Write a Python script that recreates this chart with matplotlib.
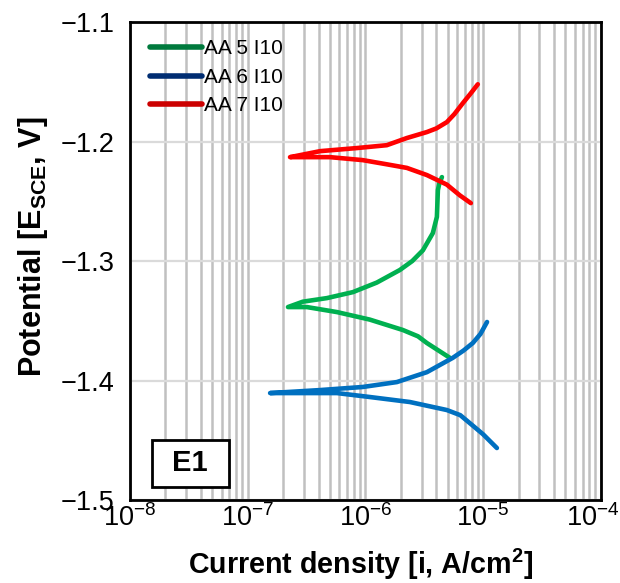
import matplotlib
matplotlib.use("Agg")
import matplotlib.pyplot as plt
import matplotlib.transforms as mtransforms
from matplotlib.lines import Line2D
from matplotlib.patches import Rectangle
from matplotlib.ticker import LogLocator, FixedLocator

plt.rcParams['font.family'] = ['Liberation Sans', 'DejaVu Sans']
plt.rcParams['mathtext.fontset'] = 'custom'
plt.rcParams['mathtext.rm'] = 'Liberation Sans'
plt.rcParams['mathtext.bf'] = 'Liberation Sans:bold'

# polarisation curves (current density A/cm2, potential V vs SCE)
aa7_i = [9.02e-6, 7.8e-6, 6.73e-6, 5.7e-6, 4.92e-6, 4.0e-6, 3.33e-6, 2.25e-6, 1.52e-6,
         8.47e-7, 4.11e-7, 2.29e-7,
         2.78e-7, 5.0e-7, 9.5e-7, 1.52e-6, 2.25e-6, 3.33e-6, 4.92e-6, 6.35e-6, 7.87e-6]
aa7_E = [-1.152, -1.160, -1.1678, -1.177, -1.1837, -1.189, -1.192, -1.197, -1.203,
         -1.2054, -1.208, -1.213,
         -1.213, -1.213, -1.2155, -1.219, -1.222, -1.228, -1.236, -1.245, -1.2515]

aa5_i = [4.47e-6, 4.25e-6, 4.13e-6, 4.05e-6, 3.74e-6, 3.08e-6, 2.5e-6, 1.96e-6, 1.25e-6,
         7.83e-7, 4.71e-7, 2.94e-7, 2.2e-7,
         3.18e-7, 5.73e-7, 1.09e-6, 2.08e-6, 2.8e-6, 3.33e-6, 4.2e-6, 5.22e-6]
aa5_E = [-1.2297, -1.235, -1.2406, -1.263, -1.2766, -1.291, -1.300, -1.3075, -1.318,
         -1.326, -1.331, -1.334, -1.3385,
         -1.3385, -1.3427, -1.349, -1.3577, -1.363, -1.3686, -1.375, -1.381]

aa6_i = [1.08e-5, 9.5e-6, 8.18e-6, 6.8e-6, 5.53e-6, 3.33e-6, 1.85e-6, 9.5e-7, 4.11e-7, 1.55e-7,
         5.73e-7, 1.09e-6, 2.39e-6, 4.92e-6, 6.4e-6, 7.7e-6, 1.0e-5, 1.31e-5]
aa6_E = [-1.351, -1.361, -1.3686, -1.375, -1.381, -1.393, -1.4013, -1.4054, -1.408, -1.4105,
         -1.4105, -1.4138, -1.418, -1.4247, -1.429, -1.4356, -1.445, -1.4565]

labels = ["AA 5 I10", "AA 6 I10", "AA 7 I10"]
legend_colors = ["#007a3d", "#002d72", "#cc0000"]
ytick_vals = [-1.5, -1.4, -1.3, -1.2, -1.1]

fig = plt.figure(figsize=(6.2, 5.83), dpi=100)
ax = fig.add_axes([0.2097, 0.1424, 0.7593, 0.8196])

ax.plot(aa5_i, aa5_E, color="#00b050", lw=3.3, solid_capstyle="round", solid_joinstyle="round", zorder=3)
ax.plot(aa6_i, aa6_E, color="#0070c0", lw=3.3, solid_capstyle="round", solid_joinstyle="round", zorder=3)
ax.plot(aa7_i, aa7_E, color="#ff0000", lw=3.3, solid_capstyle="round", solid_joinstyle="round", zorder=3)

ax.set_xscale("log")
ax.set_xlim(1e-8, 1e-4)
ax.set_ylim(-1.5, -1.1)
ax.yaxis.set_major_locator(FixedLocator(ytick_vals))
ax.set_yticklabels(["\u2212%.1f" % abs(v) for v in ytick_vals])
ax.xaxis.set_major_locator(LogLocator(base=10, numticks=10))
ax.xaxis.set_minor_locator(LogLocator(base=10, subs=range(2, 10), numticks=20))

ax.grid(True, which="both", axis="x", color="#c0c0c0", lw=1.8, zorder=0)
ax.grid(True, which="major", axis="y", color="#dadada", lw=1.6, zorder=0)
ax.set_axisbelow(True)
ax.tick_params(which="both", length=0, labelsize=19.5)
ax.tick_params(axis="y", pad=11)
ax.tick_params(axis="x", pad=3)

for s in ax.spines.values():
    s.set_linewidth(2.0)
    s.set_color("black")

ax.set_xlabel("Current density [i, A/cm$^\\mathbf{2}$]", fontsize=20.6, fontweight="bold", labelpad=11)
ax.set_ylabel("Potential [E$_\\mathbf{SCE}$, V]", fontsize=22, fontweight="bold", labelpad=8)
ax.xaxis.label.set_x(0.49)
ax.yaxis.label.set_y(0.53)

# nudge the last x tick label in so it stays inside the figure
fig.canvas.draw()
last = [t for t in ax.get_xticklabels() if t.get_position()[0] == 1e-4]
for t in last:
    t.set_transform(t.get_transform() + mtransforms.ScaledTranslation(-6 / 72, 0, fig.dpi_scale_trans))

handles = [Line2D([0], [0], color=c, lw=4, solid_capstyle="round") for c in legend_colors]
ax.legend(handles, labels, loc="upper left", frameon=False, fontsize=15,
          handlelength=2.5, handletextpad=0.1, labelspacing=0.45,
          bbox_to_anchor=(0.015, 0.99), borderaxespad=0.2)

ax.add_patch(Rectangle((0.0467, 0.0272), 0.1635, 0.0983, transform=ax.transAxes,
                       fc="white", ec="black", lw=2.0, zorder=5))
ax.text(0.128, 0.077, "E1", transform=ax.transAxes, fontsize=21, fontweight="bold",
        ha="center", va="center", zorder=6)

fig.savefig("out.png", dpi=100)
